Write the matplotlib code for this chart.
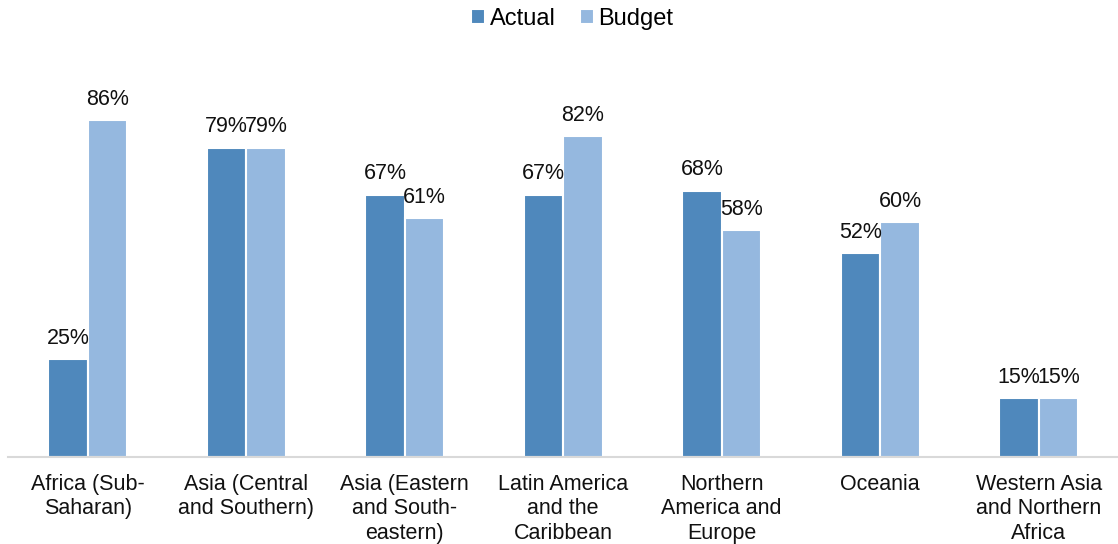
import numpy as np
import matplotlib.pyplot as plt

plt.rcParams['font.family'] = ['Liberation Sans', 'DejaVu Sans']

regions = ['Africa (Sub-\nSaharan)', 'Asia (Central\nand Southern)',
           'Asia (Eastern\nand South-\neastern)', 'Latin America\nand the\nCaribbean',
           'Northern\nAmerica and\nEurope', 'Oceania', 'Western Asia\nand Northern\nAfrica']
actual = [25, 79, 67, 67, 68, 52, 15]
budget = [86, 79, 61, 82, 58, 60, 15]

c_actual = '#4F88BC'
c_budget = '#95B8DF'

fig = plt.figure(figsize=(11.18, 5.44), dpi=100)
ax = fig.add_axes([0.0076, 0.16, 0.9924, 0.72])

x = np.arange(len(regions))
w = 0.25
b1 = ax.bar(x - w / 2, actual, w, color=c_actual, edgecolor='white', linewidth=1.5, label='Actual')
b2 = ax.bar(x + w / 2, budget, w, color=c_budget, edgecolor='white', linewidth=1.5, label='Budget')

for bars, vals in ((b1, actual), (b2, budget)):
    for r, v in zip(bars, vals):
        ax.text(r.get_x() + r.get_width() / 2, v + 2.6, f'{v}%', ha='center', va='bottom',
                fontsize=15.5, color='#111111')

ax.set_xlim(-0.5, len(regions) - 0.5)
ax.set_ylim(0, 100)
ax.set_yticks([])
ax.set_xticks(x)
ax.set_xticklabels(regions, fontsize=15.5, color='#111111', linespacing=1.22, va='top')
ax.tick_params(axis='x', length=0, pad=12)
for s in ('top', 'right', 'left'):
    ax.spines[s].set_visible(False)
ax.spines['bottom'].set_color('#D9D9D9')
ax.spines['bottom'].set_linewidth(1.5)

fig.legend(handles=[b1, b2], loc='upper center', bbox_to_anchor=(0.512, 1.025), ncol=2,
           frameon=False, fontsize=17, handlelength=0.6, handleheight=0.6,
           handletextpad=0.2, columnspacing=1.0)

fig.savefig('out.png', dpi=100)
